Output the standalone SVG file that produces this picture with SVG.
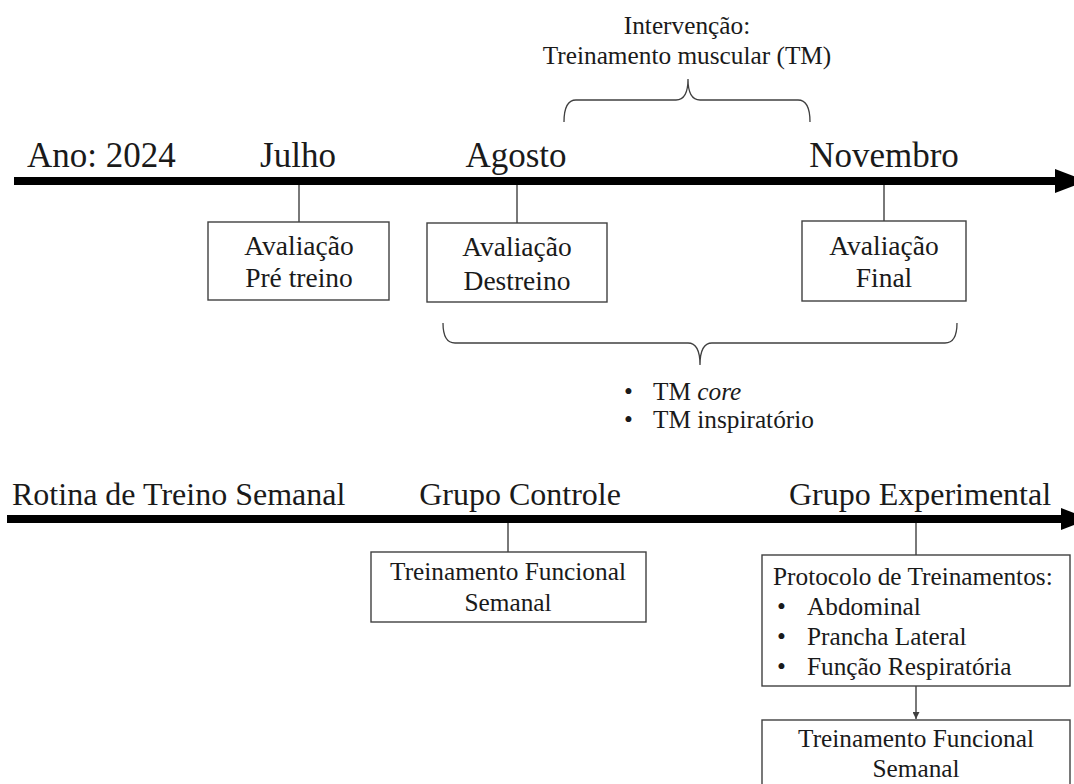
<svg xmlns="http://www.w3.org/2000/svg" width="1074" height="784" viewBox="0 0 1074 784" font-family="'Liberation Serif', 'Times New Roman', serif">
<defs>
<style>
text{font-family:"Liberation Serif","Times New Roman",serif;fill:#1a1a1a}
.lbl{font-size:35px}
.lbl2{font-size:32px}
.bx{font-size:27.5px}
.bx2{font-size:25.3px}
.box{fill:#fff;stroke:#404040;stroke-width:1.4}
.tick{stroke:#404040;stroke-width:1.4;fill:none}
.axis{stroke:#000;stroke-width:8;fill:none}
.brace{stroke:#404040;stroke-width:1.3;fill:none}
</style>
<marker id="ah" viewBox="0 0 10 10" refX="10" refY="5" markerWidth="7" markerHeight="7" markerUnits="userSpaceOnUse" orient="auto">
<path d="M0,0 L10,5 L0,10 Z" fill="#404040"/>
</marker>
</defs>
<rect width="1074" height="784" fill="#fff"/>

<g id="connectors">
<line class="axis" x1="14" y1="181" x2="1058" y2="181"/>
<polygon points="1055,169 1086,181 1055,193" fill="#000"/>
<line class="axis" x1="7" y1="519" x2="1064" y2="519"/>
<polygon points="1061,508 1090,519 1061,530" fill="#000"/>
<line class="tick" x1="299" y1="185" x2="299" y2="222"/>
<line class="tick" x1="517" y1="185" x2="517" y2="223"/>
<line class="tick" x1="884" y1="185" x2="884" y2="221"/>
<line class="tick" x1="508" y1="523" x2="508" y2="552"/>
<line class="tick" x1="916" y1="523" x2="916" y2="555"/>
<line class="tick" x1="916" y1="686" x2="916" y2="719" marker-end="url(#ah)"/>
<path class="brace" d="M564,122 Q564,100 576,100 L676,100 Q688,100 688,79 Q688,100 700,100 L798,100 Q810,100 810,122"/>
<path class="brace" d="M443,323 Q443,343 455,343 L688,343 Q700,343 700,365 Q700,343 712,343 L945,343 Q957,343 957,323"/>
</g>

<g id="axis-labels">
<text class="lbl" x="27" y="167">Ano: 2024</text>
<text class="lbl" x="298" y="167" text-anchor="middle">Julho</text>
<text class="lbl" x="516" y="167" text-anchor="middle">Agosto</text>
<text class="lbl" x="884" y="167" text-anchor="middle">Novembro</text>
<text class="lbl2" x="12" y="505">Rotina de Treino Semanal</text>
<text class="lbl2" x="520" y="505" text-anchor="middle">Grupo Controle</text>
<text class="lbl2" x="920" y="505" text-anchor="middle">Grupo Experimental</text>
</g>

<g id="intervencao">
<text class="bx2" x="687" y="34" text-anchor="middle">Intervenção:</text>
<text class="bx2" x="687" y="64" text-anchor="middle">Treinamento muscular (TM)</text>
</g>

<g id="tm-list" style="font-family:'Liberation Serif',serif">
<text class="bx2" x="624" y="400">•</text>
<text class="bx2" x="653" y="400">TM <tspan font-style="italic">core</tspan></text>
<text class="bx2" x="624" y="428">•</text>
<text class="bx2" x="653" y="428">TM inspiratório</text>
</g>

<g id="node-pre" style="font-family:'Liberation Serif',serif">
<rect class="box" x="208" y="222" width="181" height="78"/>
<text class="bx" x="299" y="255" text-anchor="middle">Avaliação</text>
<text class="bx" x="299" y="287" text-anchor="middle">Pré treino</text>
</g>

<g id="node-destreino" style="font-family:'Liberation Serif',serif">
<rect class="box" x="427" y="223" width="180" height="79"/>
<text class="bx" x="517" y="256" text-anchor="middle">Avaliação</text>
<text class="bx" x="517" y="290" text-anchor="middle">Destreino</text>
</g>

<g id="node-final" style="font-family:'Liberation Serif',serif">
<rect class="box" x="802" y="221" width="164" height="80"/>
<text class="bx" x="884" y="255" text-anchor="middle">Avaliação</text>
<text class="bx" x="884" y="287" text-anchor="middle">Final</text>
</g>

<g id="node-controle">
<rect class="box" x="371" y="552" width="275" height="70"/>
<text class="bx2" x="508" y="580" text-anchor="middle">Treinamento Funcional</text>
<text class="bx2" x="508" y="611" text-anchor="middle">Semanal</text>
</g>

<g id="node-protocolo">
<rect class="box" x="762" y="555" width="308" height="131"/>
<text class="bx2" x="773" y="585">Protocolo de Treinamentos:</text>
<text class="bx2" x="777" y="615">•</text>
<text class="bx2" x="807" y="615">Abdominal</text>
<text class="bx2" x="777" y="645">•</text>
<text class="bx2" x="807" y="645">Prancha Lateral</text>
<text class="bx2" x="777" y="675">•</text>
<text class="bx2" x="807" y="675">Função Respiratória</text>
</g>

<g id="node-funcional-exp">
<rect class="box" x="762" y="720" width="308" height="80"/>
<text class="bx2" x="916" y="747" text-anchor="middle">Treinamento Funcional</text>
<text class="bx2" x="916" y="777" text-anchor="middle">Semanal</text>
</g>
</svg>
